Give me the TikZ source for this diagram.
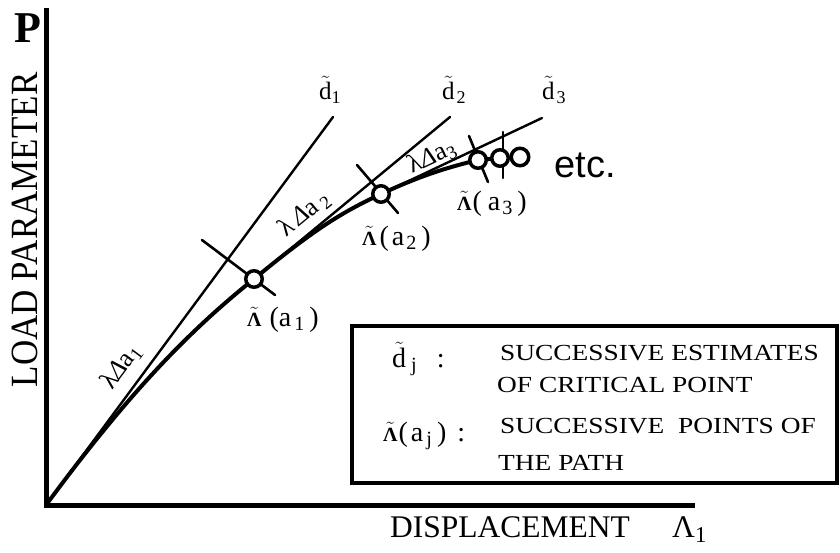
\documentclass[tikz,border=0pt]{standalone}
\usepackage{fontspec}
\setmainfont{Liberation Serif}
\newfontfamily\etcfont{Liberation Sans}
\newcommand\lsub[1]{\raisebox{-0.35ex}{\scalebox{0.72}{#1}}}
\newcommand\tildeon[1]{$\tilde{\hbox{#1}}$}
\newcommand\Lt{\tildeon{\scalebox{0.72}{\bfseries Λ}}}
\newcommand\fsz[1]{\fontsize{#1}{#1}\selectfont}
\tikzset{
  axisl/.style={line width=5pt, line join=miter},
  thinl/.style={line width=2.4pt, line cap=round},
  pathl/.style={line width=4pt, line cap=round, line join=round},
  tickl/.style={line width=2.6pt, line cap=round},
  ptc/.style={circle, draw, fill=white, line width=3.5pt, minimum size=16.5pt, inner sep=0pt},
  lbl/.style={inner sep=0pt, font=\fsz{26}},
  ptl/.style={inner sep=0pt, anchor=base west, font=\fsz{28}},
  dl/.style={inner sep=0pt, anchor=base west, font=\fsz{25}},
  leg/.style={inner sep=0pt, anchor=base west, font=\fsz{23}},
  boxl/.style={line width=3.5pt},
}
\begin{document}
\begin{tikzpicture}[x=1pt,y=-1pt]
\useasboundingbox (0,0) rectangle (840,552);
% axes
\coordinate (O) at (46,505);
\coordinate (Ytop) at (46,8);
\coordinate (Xend) at (695,505);
\draw[axisl] (Ytop) -- (O) -- (Xend);
% points on the path
\coordinate (a1) at (254,279);
\coordinate (a2) at (381,194);
\coordinate (a3) at (478,160);
\coordinate (a4) at (500,158);
\coordinate (a5) at (520,157);
% ends of estimate lines
\coordinate (d1e) at (333,117);
\coordinate (d2e) at (450,117);
\coordinate (d3e) at (542,118);
\draw[thinl] (O) -- (d1e);
\draw[thinl] (a1) -- (d2e);
\draw[thinl] (a2) -- (d3e);
% ticks
\coordinate (t1a) at (202,240); \coordinate (t1b) at (275,295);
\coordinate (t2a) at (357,165); \coordinate (t2b) at (398,213);
\coordinate (t3a) at (469,136); \coordinate (t3b) at (488,182);
\coordinate (t4a) at (503,132); \coordinate (t4b) at (503,178);
\draw[tickl] (t1a) -- (t1b);
\draw[tickl] (t2a) -- (t2b);
\draw[tickl] (t3a) -- (t3b);
\draw[tickl] (t4a) -- (t4b);
% path
\draw[pathl] (O) .. controls (120,405) and (180,338) .. (a1)
  .. controls (318,226) and (345,211) .. (a2)
  .. controls (422,175) and (449,167) .. (a3) -- (a4) -- (a5);
\node[ptc] (A1) at (a1) {};
\node[ptc] (A2) at (a2) {};
\node[ptc] (A3) at (a3) {};
\node[ptc] (A4) at (a4) {};
\node[ptc, minimum size=17.5pt] (A5) at (a5) {};
% axis labels
\node[font=\fsz{44}\bfseries, inner sep=0pt, anchor=base] (P) at (28,42) {P};
\node[inner sep=0pt, rotate=90, font=\fsz{35}] (LP) at (25,230) {\scalebox{1}[1.1]{LOAD PARAMETER}};
\node[inner sep=0pt, anchor=base west, font=\fsz{31.5}] (DISP) at (390,537) {DISPLACEMENT};
\node[inner sep=0pt, anchor=base west, font=\fsz{31.5}] (Lam) at (672,537) {Λ\lsub{1}};
% estimate labels
\node[dl] (d1) at (319,99) {\tildeon{d}\lsub{1}};
\node[dl] (d2) at (442,99) {\tildeon{d}\hspace{2pt}\lsub{2}};
\node[dl] (d3) at (542,99) {\tildeon{d}\hspace{2pt}\lsub{3}};
% arc-length labels
\node[lbl, rotate=53.5] (L1) at (121,367) {λ\textit{Δ}a\lsub{1}};
\node[lbl, rotate=39.4] (L2) at (304,214) {λ\,\textit{Δ}a\,\lsub{2}};
\node[lbl, rotate=25.4] (L3) at (432,157) {λ\textit{Δ}a\lsub{3}};
% point labels
\node[ptl] (La1) at (247,326) {\Lt\hspace{8pt}(a\hspace{3pt}\lsub{1}\hspace{5pt})};
\node[ptl] (La2) at (362,245) {\Lt\hspace{3pt}(\hspace{3pt}a\hspace{2pt}\lsub{2}\hspace{5pt})};
\node[ptl] (La3) at (457,210) {\Lt\hspace{1pt}(\hspace{6pt}a\hspace{2pt}\lsub{3}\hspace{5pt})};
\node[inner sep=0pt, anchor=base, font=\etcfont\fsz{38}] (etc) at (585,177) {etc.};
% legend
\draw[boxl] (352,326) rectangle (837,483);
\node[ptl] (kd) at (392,367) {\tildeon{d}\hspace{5pt}\lsub{j}\hspace{20pt}:};
\node[ptl] (kl) at (383,441) {\Lt\hspace{1pt}(\hspace{3pt}a\hspace{3pt}\lsub{j}\hspace{5pt})\hspace{11pt}:};
\node[leg] (r1) at (500,360) {\scalebox{1.19}[1]{SUCCESSIVE ESTIMATES}};
\node[leg] (r2) at (497,392) {\scalebox{1.19}[1]{OF CRITICAL POINT}};
\node[leg] (r3) at (500,433) {\scalebox{1.19}[1]{SUCCESSIVE\ \ POINTS OF}};
\node[leg] (r4) at (498,470) {\scalebox{1.19}[1]{THE PATH}};
\end{tikzpicture}
\end{document}
